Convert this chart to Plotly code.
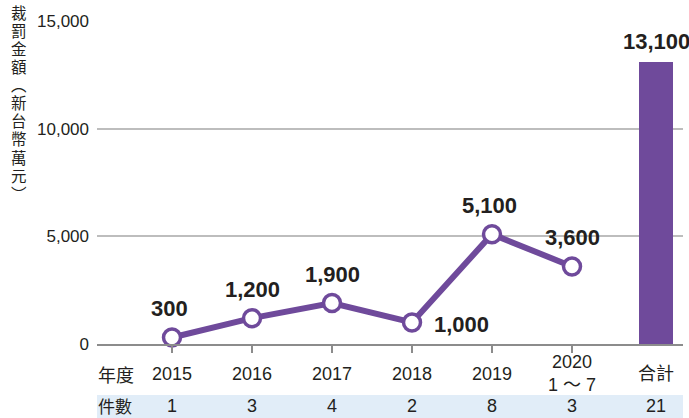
import plotly.graph_objects as go

years = ["2015", "2016", "2017", "2018", "2019", "2020<br>1 ～ 7"]
amounts = [300, 1200, 1900, 1000, 5100, 3600]
total_label = "合計"
total_amount = 13100
counts = [1, 3, 4, 2, 8, 3]
total_count = 21
yticks = [0, 5000, 10000, 15000]
ytitle = "裁罰金額︵新台幣萬元︶"
row1_title = "年度"
row2_title = "件數"

PURPLE = "#6f4a9b"
TXT = "#231f20"
FONT = "Liberation Sans, Arial, Noto Sans CJK TC, sans-serif"
CJK = "Noto Sans CJK TC, sans-serif"

xs = list(range(len(years)))
x_total = len(years) + 0.05

W, H = 689, 418
ML, MR, MT, MB = 97, 6, 21, 74
plot_h = H - MT - MB

fig = go.Figure()
fig.add_trace(go.Bar(x=[x_total], y=[total_amount], width=0.425,
                     marker=dict(color=PURPLE, line=dict(width=0)),
                     hoverinfo="skip"))
fig.add_trace(go.Scatter(x=xs, y=amounts, mode="lines+markers",
                         line=dict(color=PURPLE, width=6),
                         marker=dict(size=17, color="white",
                                     line=dict(color=PURPLE, width=3.5)),
                         cliponaxis=False, hoverinfo="skip"))

ann = []
for i, (x, v) in enumerate(zip(xs, amounts)):
    if i == 3:
        ann.append(dict(x=x, y=v, text=f"<b>{v:,}</b>", showarrow=False,
                        xanchor="left", yanchor="middle", xshift=20, yshift=-2,
                        font=dict(size=22, color=TXT, family=FONT)))
    else:
        ann.append(dict(x=x, y=v, text=f"<b>{v:,}</b>", showarrow=False,
                        xanchor="center", yanchor="middle", xshift=-3 if i in (0, 4) else 0,
                        yshift=29, font=dict(size=22, color=TXT, family=FONT)))
ann.append(dict(x=x_total, y=total_amount, text=f"<b>{total_amount:,}</b>", showarrow=False,
                xanchor="center", yanchor="bottom", yshift=6,
                font=dict(size=22, color=TXT, family=FONT)))

def py(p):
    return 1 - (p - MT) / plot_h

for x, y_lbl, c in zip(xs + [x_total], years + [total_label], counts + [total_count]):
    if "<br>" in y_lbl:
        top, bot = y_lbl.split("<br>")
        ann.append(dict(x=x, y=py(362), yref="paper", text=top, showarrow=False,
                        yanchor="middle", font=dict(size=18, color=TXT, family=FONT)))
        ann.append(dict(x=x, y=py(385), yref="paper", text=bot, showarrow=False,
                        yanchor="middle", font=dict(size=18, color=TXT, family=FONT)))
    else:
        ann.append(dict(x=x, y=py(374), yref="paper", text=y_lbl, showarrow=False,
                        yanchor="middle", font=dict(size=18, color=TXT, family=FONT)))
    ann.append(dict(x=x, y=py(406), yref="paper", text=str(c), showarrow=False,
                    yanchor="middle", font=dict(size=18, color=TXT, family=FONT)))

ann.append(dict(x=0, xref="paper", y=py(374), yref="paper", text=row1_title, showarrow=False,
                xanchor="left", yanchor="middle", xshift=-1,
                font=dict(size=18, color=TXT, family=CJK)))
ann.append(dict(x=0, xref="paper", y=py(405), yref="paper", text=row2_title, showarrow=False,
                xanchor="left", yanchor="middle", xshift=-1,
                font=dict(size=17, color=TXT, family=CJK)))

# vertical y-axis title: one text, one character per line
vtext = "<br>".join(f'<span style="font-size:15.5px">{ch}</span>' for ch in ytitle)
ann.append(dict(x=(19 - ML) / (W - ML - MR), xref="paper", y=py(104), yref="paper",
                text=vtext, showarrow=False, xanchor="center", yanchor="middle",
                font=dict(size=13.9, color=TXT, family=FONT)))

shapes = [
    dict(type="rect", xref="paper", yref="paper", x0=0, x1=1,
         y0=py(418), y1=py(395), fillcolor="#e1edf8", line=dict(width=0), layer="below"),
]

fig.update_layout(
    width=W, height=H,
    margin=dict(l=ML, r=MR, t=MT, b=MB),
    paper_bgcolor="white", plot_bgcolor="white",
    showlegend=False,
    annotations=ann, shapes=shapes,
    xaxis=dict(range=[-(172 - ML) / 80, (W - MR - 172) / 80], tickvals=xs, ticktext=[""] * len(xs),
               ticks="outside", ticklen=7, tickwidth=1.5, tickcolor="#8c8c8c",
               showgrid=False, zeroline=False, showline=True, linecolor="#8c8c8c", linewidth=2),
    yaxis=dict(range=[0, 15000], tickvals=yticks, ticktext=[f"{t:,}" for t in yticks],
               tickfont=dict(size=17, color=TXT, family=FONT), ticks="", ticklabelstandoff=7,
               showgrid=True, gridcolor="#bdbdbd", gridwidth=1.5, zeroline=False, showline=False),
)

fig.write_html("out.html")
